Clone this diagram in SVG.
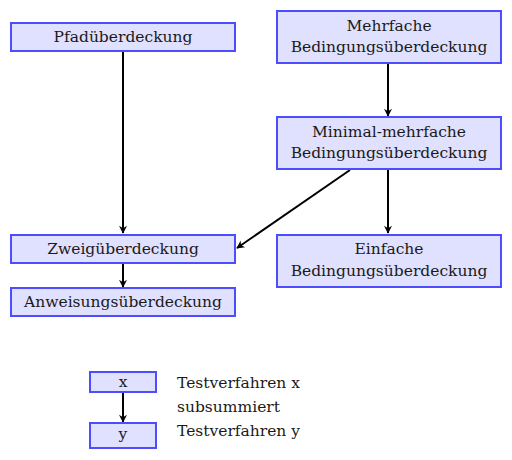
<svg xmlns="http://www.w3.org/2000/svg" width="512" height="460" viewBox="0 0 512 460">
  <style>
    .box { fill: #e0e0ff; stroke: #4d4dff; stroke-width: 2; }
    .edge { stroke: #000; stroke-width: 2; fill: none; }
    text { font-family: 'DejaVu Serif', serif; font-size: 15.5px; fill: #1a1a1a; }
  </style>
  <defs>
    <marker id="arr" viewBox="0 0 10 10" refX="9" refY="5" markerWidth="8" markerHeight="8" markerUnits="userSpaceOnUse" orient="auto" overflow="visible">
      <path d="M0,0 L10,5 L0,10 L3,5 Z" fill="#000"/>
    </marker>
  </defs>
  <rect width="512" height="460" fill="#fff"/>

  <g id="edges">
    <line class="edge" x1="123" y1="51" x2="123" y2="233" marker-end="url(#arr)"/>
    <line class="edge" x1="388" y1="63" x2="388" y2="116" marker-end="url(#arr)"/>
    <line class="edge" x1="388" y1="169" x2="388" y2="233" marker-end="url(#arr)"/>
    <line class="edge" x1="350" y1="170" x2="237" y2="248" marker-end="url(#arr)"/>
    <line class="edge" x1="123" y1="263" x2="123" y2="287" marker-end="url(#arr)"/>
    <line class="edge" x1="123" y1="392" x2="123" y2="422" marker-end="url(#arr)"/>
  </g>

  <g text-anchor="middle">
    <g id="pfad">
      <rect class="box" x="11" y="23" width="224" height="28"/>
      <text x="123" y="42">Pfadüberdeckung</text>
    </g>
    <g id="mehrfach">
      <rect class="box" x="277" y="11" width="224" height="52"/>
      <text x="389" y="31">Mehrfache</text>
      <text x="389" y="52">Bedingungsüberdeckung</text>
    </g>
    <g id="minimal">
      <rect class="box" x="277" y="117" width="224" height="52"/>
      <text x="389" y="137">Minimal-mehrfache</text>
      <text x="389" y="158">Bedingungsüberdeckung</text>
    </g>
    <g id="zweig">
      <rect class="box" x="11" y="235" width="224" height="28"/>
      <text x="123" y="254">Zweigüberdeckung</text>
    </g>
    <g id="einfach">
      <rect class="box" x="277" y="235" width="224" height="52"/>
      <text x="389" y="254">Einfache</text>
      <text x="389" y="276">Bedingungsüberdeckung</text>
    </g>
    <g id="anweisung">
      <rect class="box" x="11" y="288" width="224" height="28"/>
      <text x="123" y="307">Anweisungsüberdeckung</text>
    </g>
    <g id="legend-x">
      <rect class="box" x="90" y="372" width="66" height="20"/>
      <text x="123" y="387">x</text>
    </g>
    <g id="legend-y">
      <rect class="box" x="90" y="423" width="66" height="25"/>
      <text x="123" y="439">y</text>
    </g>
    <g id="legend-text" text-anchor="start">
      <text x="177" y="388">Testverfahren x</text>
      <text x="177" y="412">subsummiert</text>
      <text x="177" y="436">Testverfahren y</text>
    </g>
  </g>
</svg>
